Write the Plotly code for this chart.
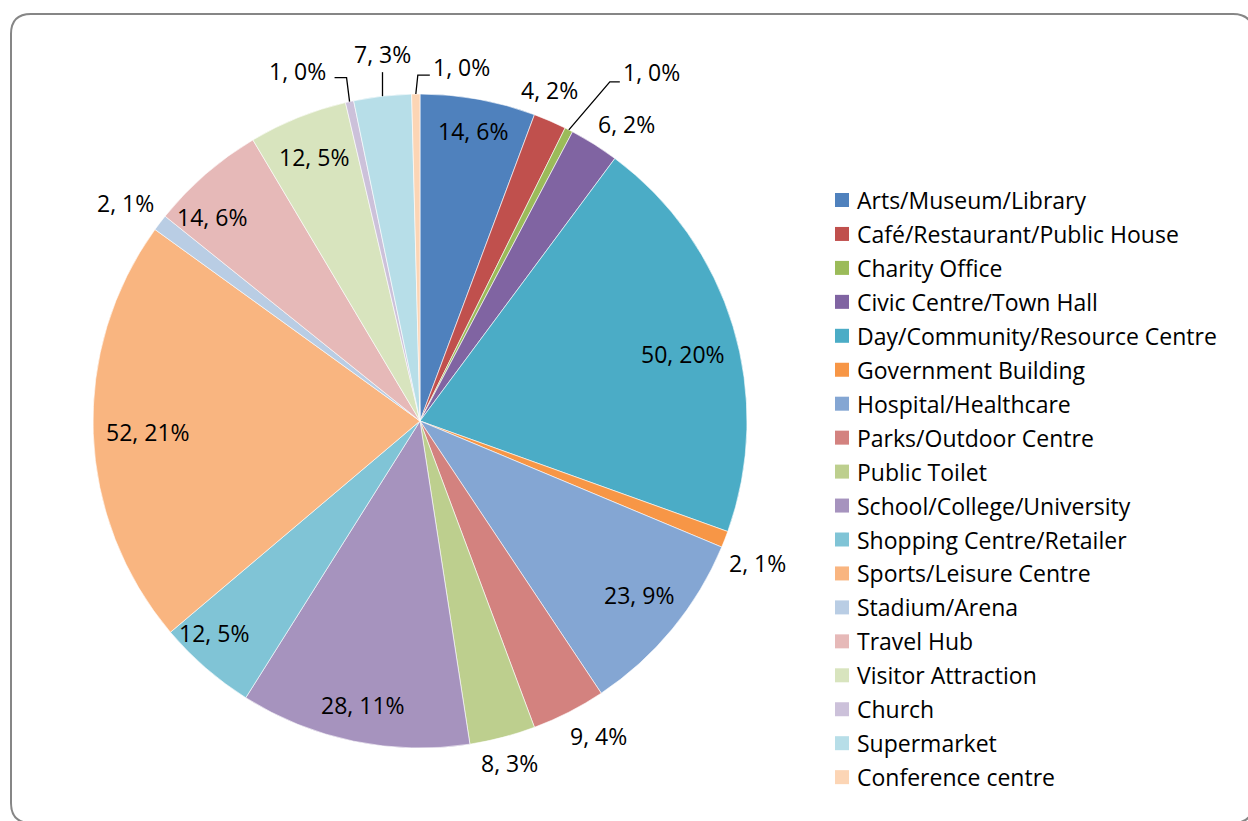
import math
import plotly.graph_objects as go

categories = [
    "Arts/Museum/Library", "Café/Restaurant/Public House", "Charity Office",
    "Civic Centre/Town Hall", "Day/Community/Resource Centre", "Government Building",
    "Hospital/Healthcare", "Parks/Outdoor Centre", "Public Toilet",
    "School/College/University", "Shopping Centre/Retailer", "Sports/Leisure Centre",
    "Stadium/Arena", "Travel Hub", "Visitor Attraction", "Church", "Supermarket",
    "Conference centre",
]
counts = [14, 4, 1, 6, 50, 2, 23, 9, 8, 28, 12, 52, 2, 14, 12, 1, 7, 1]

colors = [
    "#4F81BD", "#C0504D", "#9BBB59", "#8064A2", "#4BACC6", "#F79646",
    "#84A6D3", "#D3827F", "#BDCF8E", "#A693BE", "#80C4D6", "#F9B580",
    "#B9CDE4", "#E6B9B8", "#D8E4BE", "#CCC1DA", "#B7DEE8", "#FCD5B5",
]

# which labels sit inside the slices
inside = {
    "Arts/Museum/Library", "Day/Community/Resource Centre", "Hospital/Healthcare",
    "School/College/University", "Shopping Centre/Retailer", "Sports/Leisure Centre",
    "Travel Hub", "Visitor Attraction",
}
# leader lines: elbow, line end and label centre as pixel offsets from the slice edge
leaders = {
    "Charity Office": [(41, -48), (51, -48), (83, -58)],
    "Church": [(-3, -24), (-15, -24), (-52, -31)],
    "Supermarket": [(0, -10), (0, -24), (0, -42)],
    "Conference centre": [(2, -19), (14, -19), (46, -27)],
}
# small "best fit" label nudges (pixels)
nudge = {
    "Arts/Museum/Library": (2, -10), "Day/Community/Resource Centre": (-9, 15),
    "Hospital/Healthcare": (0, -7), "Shopping Centre/Retailer": (-19, -3),
    "Sports/Leisure Centre": (12, 0), "Travel Hub": (-21, 11),
    "Café/Restaurant/Public House": (-12, -4), "Civic Centre/Town Hall": (15, 7),
    "Government Building": (-4, 10), "Parks/Outdoor Centre": (16, -4),
    "School/College/University": (1, 5), "Stadium/Arena": (-4, 3),
}

W, H = 1248, 821
CX, CY, R = 420, 421, 327
FONT = "Open Sans, sans-serif"
FS = 23


def px(x):
    return x / W


def py(y):
    return 1 - y / H


total = sum(counts)
labels_txt = [f"{v}, {round(100 * v / total)}%" for v in counts]

fig = go.Figure(go.Pie(
    labels=categories,
    values=counts,
    sort=False,
    direction="clockwise",
    rotation=0,
    marker=dict(colors=colors, line=dict(color="white", width=0.6)),
    textinfo="none",
    hoverinfo="label+value+percent",
    showlegend=False,
    domain=dict(x=[px(CX - R), px(CX + R)], y=[py(CY + R), py(CY - R)]),
))

annotations = []
shapes = []
cum = 0
for cat, v, txt in zip(categories, counts, labels_txt):
    mid = (cum + v / 2) / total * 2 * math.pi
    cum += v
    s, c = math.sin(mid), math.cos(mid)
    if cat in leaders:
        ex, ey = CX + R * s, CY - R * c
        (bx, by), (fx, fy), (lx, ly) = leaders[cat]
        shapes.append(dict(
            type="path", xref="paper", yref="paper",
            path=(f"M {px(ex)},{py(ey)} L {px(ex + bx)},{py(ey + by)} "
                  f"L {px(ex + fx)},{py(ey + fy)}"),
            line=dict(color="black", width=1.3),
        ))
        tx, ty = ex + lx, ey + ly
    elif cat in inside:
        r = 0.87 * R
        tx, ty = CX + r * s, CY - r * c
    else:
        r = R + 8 + abs(s) * 29 + abs(c) * 11
        tx, ty = CX + r * s, CY - r * c
    dx, dy = nudge.get(cat, (0, 0))
    annotations.append(dict(
        x=px(tx + dx), y=py(ty + dy), xref="paper", yref="paper",
        text=txt, showarrow=False, xanchor="center", yanchor="middle",
        font=dict(family=FONT, size=FS, color="black"),
    ))

# legend drawn beside the pie
LX, LY0, LSTEP = 835, 200, 33.95
for i, (cat, col) in enumerate(zip(categories, colors)):
    yc = LY0 + i * LSTEP
    shapes.append(dict(
        type="rect", xref="paper", yref="paper",
        x0=px(LX), x1=px(LX + 14), y0=py(yc - 7), y1=py(yc + 7),
        fillcolor=col, line=dict(width=0),
    ))
    annotations.append(dict(
        x=px(LX + 20), y=py(yc), xref="paper", yref="paper", text=cat,
        showarrow=False, xanchor="left", yanchor="middle",
        font=dict(family=FONT, size=FS, color="black"),
    ))

# rounded chart border
x0, y0, x1, y1, rr = 11, 14, 1253, 823, 20
path = (f"M {px(x0)},{py(y0 + rr)} Q {px(x0)},{py(y0)} {px(x0 + rr)},{py(y0)} "
        f"L {px(x1 - rr)},{py(y0)} Q {px(x1)},{py(y0)} {px(x1)},{py(y0 + rr)} "
        f"L {px(x1)},{py(y1 - rr)} Q {px(x1)},{py(y1)} {px(x1 - rr)},{py(y1)} "
        f"L {px(x0 + rr)},{py(y1)} Q {px(x0)},{py(y1)} {px(x0)},{py(y1 - rr)} Z")
shapes.append(dict(type="path", xref="paper", yref="paper", path=path,
                   line=dict(color="#868686", width=2), layer="below"))

fig.update_layout(
    width=W, height=H,
    margin=dict(l=0, r=0, t=0, b=0),
    paper_bgcolor="white",
    plot_bgcolor="white",
    font=dict(family=FONT, size=FS, color="black"),
    annotations=annotations,
    shapes=shapes,
)

fig.write_html(
    "out.html",
    config={"displayModeBar": False},
    post_script="document.body.style.margin='0';document.body.style.overflow='hidden';",
)
